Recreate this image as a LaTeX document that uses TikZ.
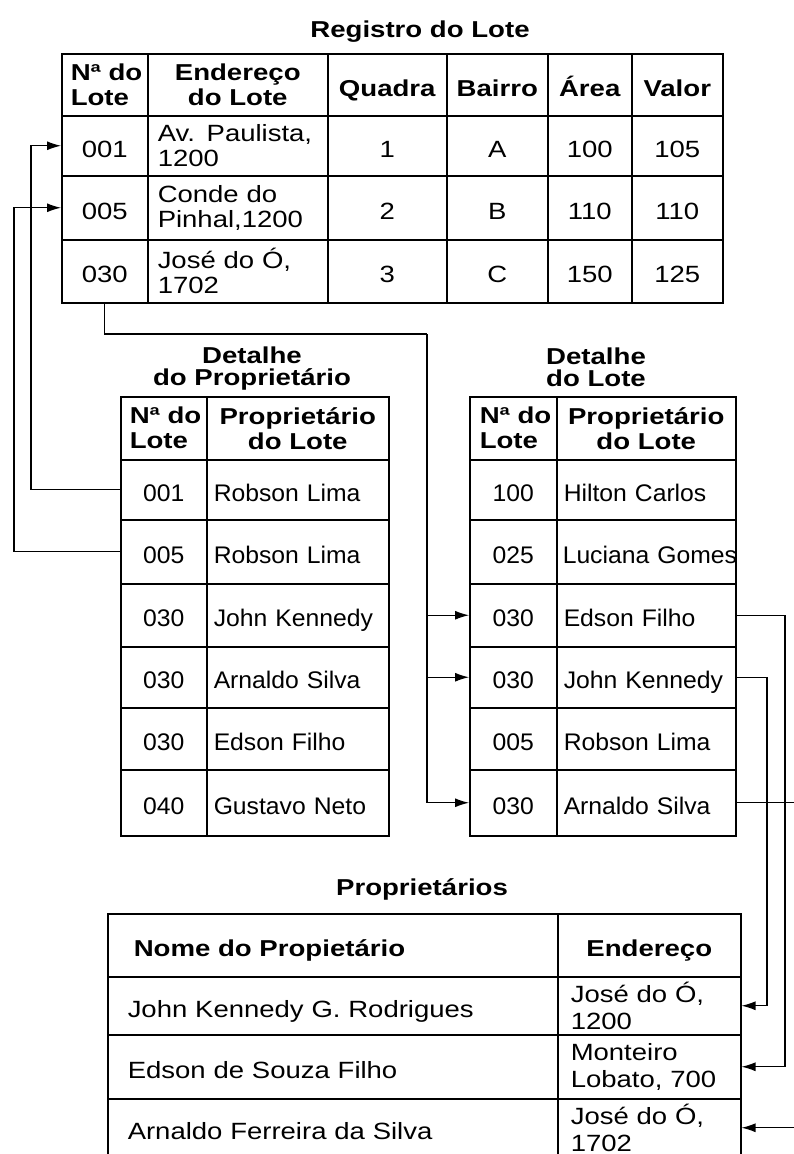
\documentclass[tikz,border=0pt]{standalone}
\usepackage{fontspec}
\setmainfont{Liberation Sans}
\newfontfamily\headfam{Liberation Sans}[FakeStretch=1.2]
\newfontfamily\bodyAfam{Liberation Sans}[FakeStretch=1.17]
\newfontfamily\bodyBfam{Liberation Sans}[FakeStretch=1.03]
\usetikzlibrary{arrows.meta}

\newcommand\fHead{\headfam\bfseries\fontsize{23}{25}\selectfont}
\newcommand\fTitle{\headfam\bfseries\fontsize{23}{22}\selectfont}
\newcommand\fBodyA{\bodyAfam\fontsize{23.5}{25}\selectfont}
\newcommand\fBodyAw{\bodyAfam\fontsize{23.5}{27}\selectfont}
\newcommand\fBodyB{\bodyBfam\fontsize{24}{25}\selectfont}
\newcommand\cst{\rule[-5pt]{0pt}{33pt}}

% name, x1, y1, x2, y2, align, pad, font, text
\newcommand\tcell[9]{%
  \pgfmathsetlengthmacro\cw{(#4)-(#2)}%
  \pgfmathsetlengthmacro\ch{(#5)-(#3)}%
  \pgfmathsetlengthmacro\tw{(#4)-(#2)-2*(#7)}%
  \node[cellbox, minimum width=\cw, minimum height=\ch, text width=\tw,
        inner xsep=#7pt, align=#6, font=#8] (#1) at (#2,#3) {#9};}

\begin{document}
\begin{tikzpicture}[x=1pt,y=-1pt,
  cellbox/.style={draw, line width=1.5pt, anchor=north west, inner ysep=0pt},
  conn/.style={line width=1.2pt, -{Latex[length=14pt,width=9pt]}},
  trunk/.style={line width=1.2pt},
  ttl/.style={inner sep=0pt, align=center}]

\fill[white] (0,0) rectangle (794,1154);
\useasboundingbox (0,0) rectangle (794,1154);

% ---------- Registro do Lote ----------
\node[ttl, font=\fHead, anchor=base] (title1) at (420,37) {Registro do Lote};

\tcell{t0a}{61}{53}{147}{115}{left}{9}{\fHead}{\mbox{Nª do}\\Lote}
\tcell{t0b}{147}{53}{327}{115}{center}{8}{\fHead}{Endereço\\do Lote}
\tcell{t0c}{327}{53}{446}{115}{center}{4}{\fHead}{\cst Quadra}
\tcell{t0d}{446}{53}{547}{115}{center}{4}{\fHead}{\cst Bairro}
\tcell{t0e}{547}{53}{631}{115}{center}{4}{\fHead}{\cst Área}
\tcell{t0f}{631}{53}{722}{115}{center}{4}{\fHead}{\cst Valor}

\tcell{t1a}{61}{115}{147}{175}{center}{4}{\fBodyA}{\cst 001}
\tcell{t1b}{147}{115}{327}{175}{left}{10}{\fBodyA}{Av. Paulista,\\1200}
\tcell{t1c}{327}{115}{446}{175}{center}{4}{\fBodyA}{\cst 1}
\tcell{t1d}{446}{115}{547}{175}{center}{4}{\fBodyA}{\cst A}
\tcell{t1e}{547}{115}{631}{175}{center}{4}{\fBodyA}{\cst 100}
\tcell{t1f}{631}{115}{722}{175}{center}{4}{\fBodyA}{\cst 105}

\tcell{t2a}{61}{175}{147}{239}{center}{4}{\fBodyA}{\cst 005}
\tcell{t2b}{147}{175}{327}{239}{left}{10}{\fBodyA}{Conde do\\Pinhal,1200}
\tcell{t2c}{327}{175}{446}{239}{center}{4}{\fBodyA}{\cst 2}
\tcell{t2d}{446}{175}{547}{239}{center}{4}{\fBodyA}{\cst B}
\tcell{t2e}{547}{175}{631}{239}{center}{4}{\fBodyA}{\cst 110}
\tcell{t2f}{631}{175}{722}{239}{center}{4}{\fBodyA}{\cst 110}

\tcell{t3a}{61}{239}{147}{302}{center}{4}{\fBodyA}{\cst 030}
\tcell{t3b}{147}{239}{327}{302}{left}{10}{\fBodyA}{José do Ó,\\1702}
\tcell{t3c}{327}{239}{446}{302}{center}{4}{\fBodyA}{\cst 3}
\tcell{t3d}{446}{239}{547}{302}{center}{4}{\fBodyA}{\cst C}
\tcell{t3e}{547}{239}{631}{302}{center}{4}{\fBodyA}{\cst 150}
\tcell{t3f}{631}{239}{722}{302}{center}{4}{\fBodyA}{\cst 125}

% ---------- Detalhe do Proprietario ----------
\node[ttl, font=\fTitle] (title2) at (252,369) {Detalhe\\do Proprietário};

\tcell{p0a}{120}{396}{206}{459}{left}{9}{\fHead}{\mbox{Nª do}\\Lote}
\tcell{p0b}{206}{396}{388}{459}{center}{4}{\fHead}{Proprietário\\do Lote}
\tcell{p1a}{120}{459}{206}{519}{center}{4}{\fBodyB}{\cst 001}
\tcell{p1b}{206}{459}{388}{519}{left}{7}{\fBodyB}{\cst Robson Lima}
\tcell{p2a}{120}{519}{206}{583}{center}{4}{\fBodyB}{\cst 005}
\tcell{p2b}{206}{519}{388}{583}{left}{7}{\fBodyB}{\cst Robson Lima}
\tcell{p3a}{120}{583}{206}{646}{center}{4}{\fBodyB}{\cst 030}
\tcell{p3b}{206}{583}{388}{646}{left}{7}{\fBodyB}{\cst John Kennedy}
\tcell{p4a}{120}{646}{206}{707}{center}{4}{\fBodyB}{\cst 030}
\tcell{p4b}{206}{646}{388}{707}{left}{7}{\fBodyB}{\cst Arnaldo Silva}
\tcell{p5a}{120}{707}{206}{769}{center}{4}{\fBodyB}{\cst 030}
\tcell{p5b}{206}{707}{388}{769}{left}{7}{\fBodyB}{\cst Edson Filho}
\tcell{p6a}{120}{769}{206}{835}{center}{4}{\fBodyB}{\cst 040}
\tcell{p6b}{206}{769}{388}{835}{left}{7}{\fBodyB}{\cst Gustavo Neto}

% ---------- Detalhe do Lote ----------
\node[ttl, font=\fTitle] (title3) at (596,367) {Detalhe\\do Lote};

\tcell{d0a}{469}{396}{556}{459}{left}{10}{\fHead}{\mbox{Nª do}\\Lote}
\tcell{d0b}{556}{396}{735}{459}{center}{4}{\fHead}{Proprietário\\do Lote}
\tcell{d1a}{469}{459}{556}{519}{center}{4}{\fBodyB}{\cst 100}
\tcell{d1b}{556}{459}{735}{519}{left}{7}{\fBodyB}{\cst Hilton Carlos}
\tcell{d2a}{469}{519}{556}{583}{center}{4}{\fBodyB}{\cst 025}
\tcell{d2b}{556}{519}{735}{583}{left}{6}{\fBodyB}{\cst\mbox{Luciana Gomes}}
\tcell{d3a}{469}{583}{556}{646}{center}{4}{\fBodyB}{\cst 030}
\tcell{d3b}{556}{583}{735}{646}{left}{7}{\fBodyB}{\cst Edson Filho}
\tcell{d4a}{469}{646}{556}{707}{center}{4}{\fBodyB}{\cst 030}
\tcell{d4b}{556}{646}{735}{707}{left}{7}{\fBodyB}{\cst John Kennedy}
\tcell{d5a}{469}{707}{556}{769}{center}{4}{\fBodyB}{\cst 005}
\tcell{d5b}{556}{707}{735}{769}{left}{7}{\fBodyB}{\cst Robson Lima}
\tcell{d6a}{469}{769}{556}{835}{center}{4}{\fBodyB}{\cst 030}
\tcell{d6b}{556}{769}{735}{835}{left}{7}{\fBodyB}{\cst Arnaldo Silva}

% ---------- Proprietarios ----------
\node[ttl, font=\fHead, anchor=base] (title4) at (422,895) {Proprietários};

\tcell{r0a}{107}{913}{557}{976}{left}{26}{\fHead}{\cst Nome do Propietário}
\tcell{r0b}{557}{913}{740}{976}{center}{4}{\fHead}{\cst Endereço}
\tcell{r1a}{107}{976}{557}{1034}{left}{20}{\fBodyA}{\cst John Kennedy G. Rodrigues}
\tcell{r1b}{557}{976}{740}{1034}{left}{13}{\fBodyAw}{José do Ó,\\1200}
\tcell{r2a}{107}{1034}{557}{1098}{left}{20}{\fBodyA}{\cst Edson de Souza Filho}
\tcell{r2b}{557}{1034}{740}{1098}{left}{13}{\fBodyAw}{Monteiro\\Lobato, 700}
\tcell{r3a}{107}{1098}{557}{1156}{left}{20}{\fBodyA}{\cst Arnaldo Ferreira da Silva}
\tcell{r3b}{557}{1098}{740}{1156}{left}{13}{\fBodyAw}{José do Ó,\\1702}

% ---------- connectors ----------
\coordinate (la) at (31,300);
\coordinate (lb) at (14,300);
\draw[conn] (p1a.west) -| (la) |- (t1a.west);
\draw[conn] (p2a.west) -| (lb) |- (t2a.west);

\coordinate (mj) at (427,334);
\draw[trunk] (t3a.south) |- (mj);
\draw[conn] (mj) |- (d3a.west);
\draw[conn] (mj) |- (d4a.west);
\draw[conn] (mj) |- (d6a.west);

\coordinate (ra) at (767,850);
\coordinate (rb) at (785,850);
\coordinate (rc) at (795,900);
\draw[conn] (d4b.east) -| (ra) |- (r1b.east);
\draw[conn] (d3b.east) -| (rb) |- (r2b.east);
\draw[conn] (d6b.east) -| (rc) |- (r3b.east);

\end{tikzpicture}
\end{document}
